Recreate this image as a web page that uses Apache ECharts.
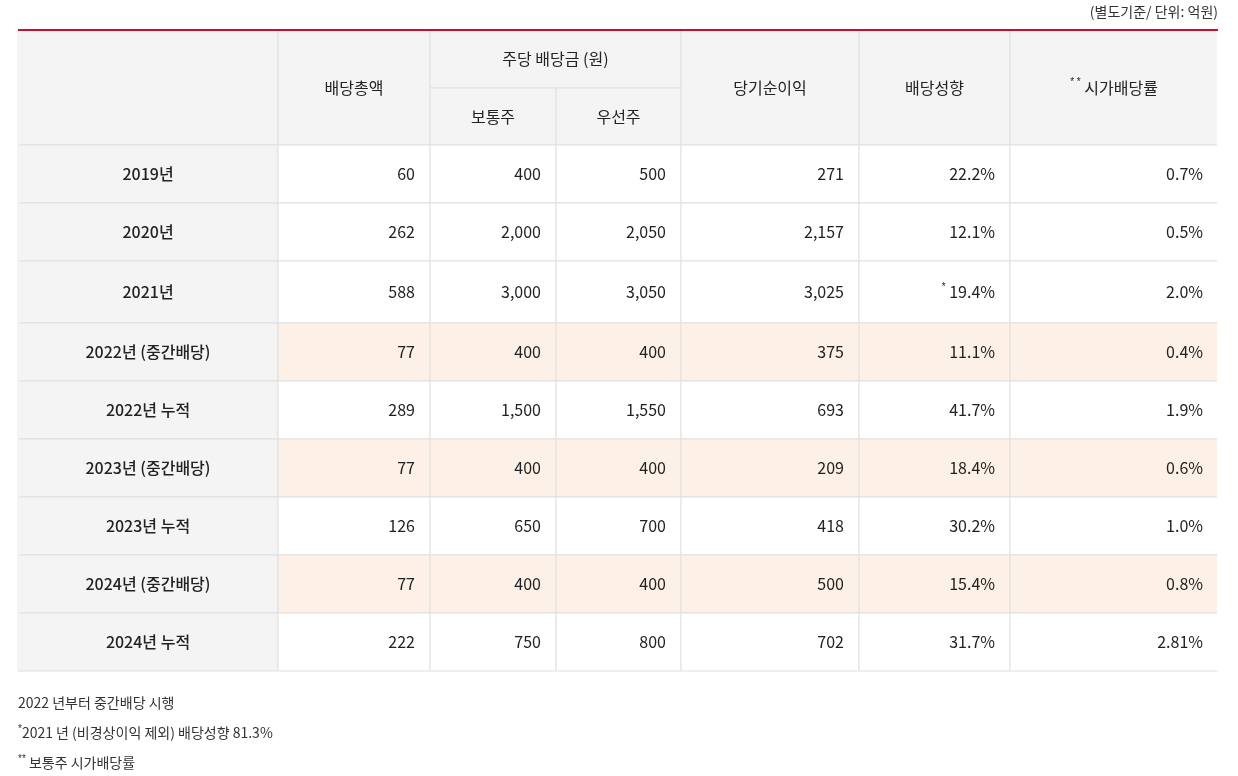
<!DOCTYPE html>
<html><head><meta charset="utf-8">
<script src="https://cdn.jsdelivr.net/npm/echarts@6/dist/echarts.min.js"></script>
<style>html,body{margin:0;background:#fff}#c{width:1238px;height:776px}</style>
</head><body><div id="c"></div>
<script>
var colEdges = [0, 260, 412, 538, 663, 841, 992, 1200];
var rowEdges = [0, 58, 115, 173, 231, 293, 351, 409, 467, 525, 583, 641];

var years = ['2019년', '2020년', '2021년', '2022년 (중간배당)', '2022년 누적', '2023년 (중간배당)', '2023년 누적', '2024년 (중간배당)', '2024년 누적'];
var totalDiv = ['60', '262', '588', '77', '289', '77', '126', '77', '222'];
var commonDps = ['400', '2,000', '3,000', '400', '1,500', '400', '650', '400', '750'];
var prefDps = ['500', '2,050', '3,050', '400', '1,550', '400', '700', '400', '800'];
var netIncome = ['271', '2,157', '3,025', '375', '693', '209', '418', '500', '702'];
var payout = ['22.2%', '12.1%', '{s|*} 19.4%', '11.1%', '41.7%', '18.4%', '30.2%', '15.4%', '31.7%'];
var yieldRate = ['0.7%', '0.5%', '2.0%', '0.4%', '1.9%', '0.6%', '1.0%', '0.8%', '2.81%'];
var interimRows = [3, 5, 7];

var cells = [
  [0, 1, 0, 2, '', 'head'],
  [1, 2, 0, 2, '배당총액', 'head'],
  [2, 4, 0, 1, '주당 배당금 (원)', 'head'],
  [2, 3, 1, 2, '보통주', 'head'],
  [3, 4, 1, 2, '우선주', 'head'],
  [4, 5, 0, 2, '당기순이익', 'head'],
  [5, 6, 0, 2, '배당성향', 'head'],
  [6, 7, 0, 2, '{s|* *} 시가배당률', 'head']
];
var cols = [totalDiv, commonDps, prefDps, netIncome, payout, yieldRate];
years.forEach(function (y, i) {
  var hl = interimRows.indexOf(i) >= 0;
  cells.push([0, 1, i + 2, i + 3, y, 'year']);
  cols.forEach(function (arr, j) {
    cells.push([j + 1, j + 2, i + 2, i + 3, arr[i], hl ? 'hl' : 'num']);
  });
});

var noteFont = '14px "Noto Sans CJK KR"';
var noteRich = {s: {fontSize: 10, verticalAlign: 'top', padding: [0, 0, 8, 0], fill: '#333'}};

var chart = echarts.init(document.getElementById('c'));
chart.setOption({
  animation: false,
  grid: {left: 18, top: 30, width: 1200, height: 641},
  xAxis: {type: 'value', min: 0, max: 1200, show: false},
  yAxis: {type: 'value', min: 0, max: 641, inverse: true, show: false},
  graphic: [
    {type: 'text', right: 20, top: 5, style: {text: '(별도기준/ 단위: 억원)', fill: '#333', font: '14px "Noto Sans CJK KR"'}},
    {type: 'rect', left: 18, top: 29, shape: {width: 1200, height: 2}, style: {fill: '#c8102e'}, z: 100},
    {type: 'rect', left: 17, top: 31, shape: {width: 2, height: 640}, style: {fill: '#f4f4f4'}, z: 100},
    {type: 'rect', left: 1217, top: 31, shape: {width: 2, height: 640}, style: {fill: '#fff'}, z: 100},
    {type: 'text', left: 18, top: 696, style: {text: '2022 년부터 중간배당 시행', fill: '#333', font: noteFont}},
    {type: 'text', left: 18, top: 724, style: {text: '{s|*}2021 년 (비경상이익 제외) 배당성향 81.3%', fill: '#333', font: noteFont, rich: noteRich}},
    {type: 'text', left: 18, top: 754, style: {text: '{s|**} 보통주 시가배당률', fill: '#333', font: noteFont, rich: noteRich}}
  ],
  series: [{
    type: 'custom',
    coordinateSystem: 'cartesian2d',
    data: cells.map(function (c) { return [c[0], c[1], c[2], c[3]]; }),
    renderItem: function (params, api) {
      var c = cells[params.dataIndex];
      var p0 = api.coord([colEdges[c[0]], rowEdges[c[2]]]);
      var p1 = api.coord([colEdges[c[1]], rowEdges[c[3]]]);
      var kind = c[5];
      var fill = (kind === 'head' || kind === 'year') ? '#f4f4f4' : kind === 'hl' ? '#fdf0e6' : '#fff';
      var right = kind === 'num' || kind === 'hl';
      return {
        type: 'group',
        children: [
          {type: 'rect', shape: {x: p0[0], y: p0[1], width: p1[0] - p0[0], height: p1[1] - p0[1]},
           style: {fill: fill, stroke: '#e0e0e0', lineWidth: 1}},
          {type: 'text',
           x: right ? p1[0] - 15 : (p0[0] + p1[0]) / 2,
           y: (p0[1] + p1[1]) / 2,
           style: {text: c[4], fill: '#222', align: right ? 'right' : 'center', verticalAlign: 'middle',
             font: (kind === 'year' ? '500 ' : '') + '16px "Noto Sans CJK KR"',
             rich: {s: {fontSize: 10, verticalAlign: 'top', padding: [0, 0, 10, 0], fill: '#222'}}}}
        ]
      };
    }
  }]
});
</script></body></html>
